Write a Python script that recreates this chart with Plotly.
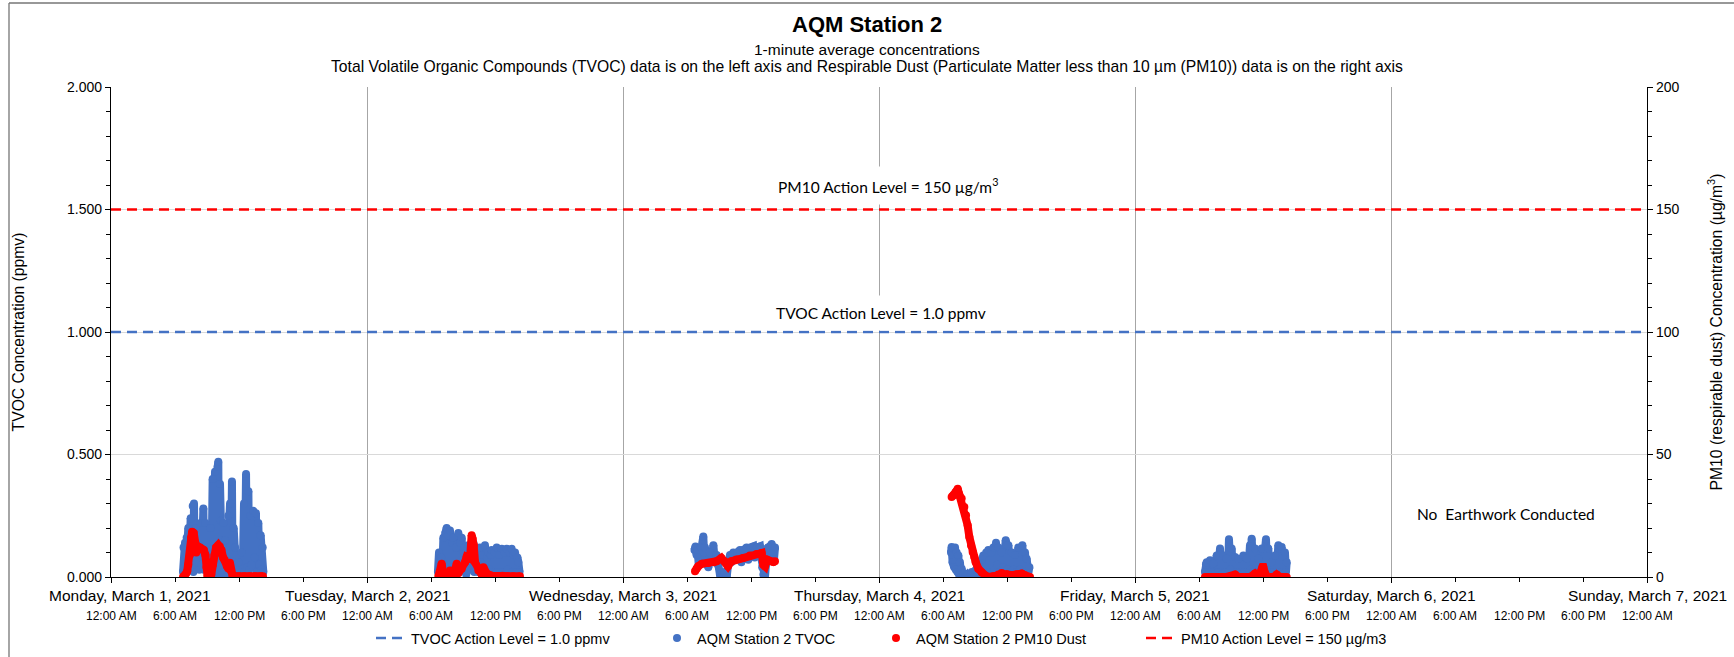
import pandas as pd
import plotly.graph_objects as go

# ---------------- data ----------------
start_date = "2021-03-01"
n_days = 6
day_labels = ["Monday, March 1, 2021", "Tuesday, March 2, 2021", "Wednesday, March 3, 2021",
              "Thursday, March 4, 2021", "Friday, March 5, 2021", "Saturday, March 6, 2021",
              "Sunday, March 7, 2021"]
time_labels = ["12:00 AM", "6:00 AM", "12:00 PM", "6:00 PM"]

tvoc_action_ppmv = 1.0
pm10_action_ugm3 = 150

# (hour of day, TVOC ppmv)
mon_tvoc = [(6.75, 0.02), (6.80, 0.12), (6.85, 0.04), (6.94, 0.14), (7.00, 0.03), (7.09, 0.16),
            (7.15, 0.05), (7.25, 0.20), (7.32, 0.06), (7.47, 0.24), (7.55, 0.03), (7.66, 0.29),
            (7.72, 0.02), (7.78, 0.30), (7.85, 0.05), (7.97, 0.20), (8.05, 0.06), (8.19, 0.13),
            (8.28, 0.03), (8.41, 0.22), (8.50, 0.05), (8.66, 0.28), (8.72, 0.03), (8.84, 0.22),
            (8.92, 0.07), (9.06, 0.12), (9.15, 0.01), (9.34, 0.20), (9.42, 0.03), (9.53, 0.40),
            (9.60, 0.02), (9.75, 0.43), (9.85, 0.01), (10.00, 0.45), (10.06, 0.47), (10.12, 0.00),
            (10.22, 0.38), (10.30, 0.23), (10.34, 0.15), (10.38, 0.07), (10.42, 0.02), (10.53, 0.22),
            (10.60, 0.02), (10.70, 0.15), (10.84, 0.00), (11.00, 0.25), (11.16, 0.30), (11.25, 0.04),
            (11.34, 0.39), (11.40, 0.00), (11.50, 0.20), (11.63, 0.12), (11.75, 0.00), (11.94, 0.06),
            (12.05, 0.00), (12.25, 0.10), (12.35, 0.01), (12.47, 0.30), (12.55, 0.02), (12.66, 0.42),
            (12.75, 0.04), (12.88, 0.35), (12.95, 0.03), (13.09, 0.25), (13.18, 0.05), (13.34, 0.27),
            (13.45, 0.08), (13.59, 0.26), (13.65, 0.02), (13.81, 0.22), (13.90, 0.05), (14.03, 0.17),
            (14.12, 0.03), (14.22, 0.12), (14.28, 0.02)]
tue_tvoc = [(6.65, 0.02), (6.75, 0.10), (6.84, 0.04), (6.95, 0.08), (7.05, 0.02), (7.16, 0.16),
            (7.25, 0.05), (7.35, 0.18), (7.47, 0.20), (7.55, 0.03), (7.65, 0.17), (7.78, 0.19),
            (7.88, 0.02), (8.00, 0.14), (8.09, 0.16), (8.20, 0.04), (8.35, 0.12), (8.56, 0.18),
            (8.65, 0.02), (8.75, 0.14), (8.88, 0.16), (8.98, 0.03), (9.08, 0.10), (9.19, 0.12),
            (9.30, 0.01), (9.40, 0.09), (9.50, 0.13), (9.60, 0.03), (9.75, 0.11), (9.97, 0.14),
            (10.05, 0.02), (10.15, 0.10), (10.28, 0.09), (10.40, 0.02), (10.50, 0.10), (10.59, 0.12),
            (10.70, 0.03), (10.85, 0.09), (11.06, 0.13), (11.15, 0.02), (11.25, 0.08), (11.38, 0.10),
            (11.50, 0.03), (11.60, 0.09), (11.69, 0.11), (11.80, 0.02), (11.95, 0.10), (12.16, 0.12),
            (12.25, 0.02), (12.40, 0.09), (12.63, 0.115), (12.75, 0.02), (12.90, 0.10), (13.09, 0.115),
            (13.20, 0.03), (13.35, 0.10), (13.56, 0.115), (13.65, 0.02), (13.75, 0.09), (13.88, 0.10),
            (14.00, 0.02), (14.10, 0.08), (14.19, 0.06), (14.30, 0.02)]
wed_tvoc = [(6.70, 0.11), (6.80, 0.125), (6.90, 0.09), (7.00, 0.11), (7.10, 0.05), (7.30, 0.12),
            (7.53, 0.165), (7.60, 0.10), (7.69, 0.12), (7.80, 0.06), (8.00, 0.04), (8.15, 0.10),
            (8.30, 0.06), (8.47, 0.13), (8.60, 0.07), (8.78, 0.09), (8.90, 0.05), (9.09, 0.01),
            (9.25, 0.00), (9.41, 0.00), (9.55, 0.02), (9.72, 0.00), (9.85, 0.05), (10.03, 0.09),
            (10.15, 0.06), (10.34, 0.10), (10.50, 0.07), (10.70, 0.10), (10.97, 0.11), (11.10, 0.06),
            (11.30, 0.11), (11.59, 0.12), (11.75, 0.07), (11.95, 0.12), (12.22, 0.125), (12.35, 0.08),
            (12.55, 0.12), (12.84, 0.125), (12.95, 0.08), (13.05, 0.04), (13.16, 0.01), (13.31, 0.00),
            (13.40, 0.05), (13.47, 0.10), (13.60, 0.12), (13.78, 0.125), (13.94, 0.135), (14.05, 0.10),
            (14.15, 0.07), (14.25, 0.12)]
thu_tvoc = [(6.75, 0.10), (6.81, 0.122), (6.90, 0.06), (6.97, 0.116), (7.05, 0.04), (7.13, 0.12),
            (7.20, 0.03), (7.28, 0.10), (7.35, 0.02), (7.44, 0.088), (7.50, 0.01), (7.59, 0.06),
            (7.70, 0.00), (7.75, 0.034), (7.85, 0.00), (7.91, 0.014), (8.10, 0.00), (8.30, 0.01),
            (8.50, 0.00), (8.70, 0.02), (8.90, 0.00), (9.10, 0.03), (9.31, 0.05), (9.45, 0.00),
            (9.63, 0.07), (9.78, 0.088), (9.90, 0.01), (10.05, 0.10), (10.25, 0.11), (10.40, 0.02),
            (10.55, 0.10), (10.72, 0.12), (10.85, 0.03), (10.97, 0.14), (11.10, 0.05), (11.19, 0.12),
            (11.30, 0.02), (11.50, 0.10), (11.65, 0.04), (11.88, 0.15), (11.97, 0.13), (12.05, 0.03),
            (12.13, 0.13), (12.30, 0.02), (12.44, 0.10), (12.60, 0.03), (12.75, 0.09), (12.90, 0.02),
            (13.06, 0.12), (13.20, 0.03), (13.44, 0.13), (13.55, 0.02), (13.69, 0.10), (13.80, 0.01),
            (13.84, 0.075), (14.00, 0.02), (14.10, 0.04)]
fri_tvoc = [(6.56, 0.02), (6.65, 0.05), (6.72, 0.06), (6.85, 0.01), (7.03, 0.068), (7.15, 0.02),
            (7.34, 0.054), (7.45, 0.01), (7.66, 0.088), (7.80, 0.02), (7.97, 0.116), (8.10, 0.01),
            (8.28, 0.088), (8.45, 0.02), (8.59, 0.075), (8.70, 0.01), (8.81, 0.154), (8.95, 0.03),
            (9.06, 0.116), (9.20, 0.01), (9.38, 0.082), (9.55, 0.02), (9.69, 0.075), (9.85, 0.01),
            (10.16, 0.088), (10.30, 0.02), (10.47, 0.075), (10.60, 0.01), (10.78, 0.13), (10.85, 0.03),
            (10.94, 0.156), (11.10, 0.02), (11.25, 0.116), (11.40, 0.01), (11.56, 0.075), (11.70, 0.02),
            (11.88, 0.116), (12.00, 0.03), (12.28, 0.154), (12.40, 0.02), (12.50, 0.116), (12.65, 0.01),
            (12.81, 0.06), (12.95, 0.02), (13.13, 0.088), (13.25, 0.01), (13.44, 0.13), (13.55, 0.02),
            (13.75, 0.122), (13.90, 0.01), (14.06, 0.10), (14.15, 0.02), (14.22, 0.06)]

# (hour of day, PM10 ug/m3)
mon_pm10 = [(6.75, 0.0), (6.90, 0.5), (7.05, 1.5), (7.15, 2.5), (7.25, 5.0), (7.40, 9.0), (7.50, 16.0),
            (7.60, 18.5), (7.75, 18.0), (7.90, 14.0), (8.00, 10.0), (8.15, 12.5), (8.35, 12.0),
            (8.50, 11.5), (8.70, 11.0), (8.85, 9.0), (8.95, 4.0), (9.05, 0.5), (9.25, 0.5), (9.40, 1.0),
            (9.55, 5.0), (9.70, 9.0), (9.85, 12.0), (10.05, 13.0), (10.20, 12.5), (10.35, 11.0),
            (10.50, 8.0), (10.65, 7.0), (10.85, 4.5), (11.00, 3.5), (11.15, 5.8), (11.25, 2.5),
            (11.40, 0.5), (11.60, 0.3), (12.00, 0.3), (12.50, 0.3), (13.00, 0.3), (13.50, 0.3),
            (14.00, 0.3), (14.25, 0.3)]
tue_pm10 = [(6.69, 0.2), (7.00, 5.4), (7.16, 1.0), (7.31, 1.4), (7.60, 0.5), (7.78, 2.7), (8.09, 0.5),
            (8.41, 5.4), (8.56, 1.5), (8.88, 3.4), (9.19, 6.0), (9.34, 8.2), (9.66, 7.5), (9.81, 17.0),
            (9.91, 15.6), (10.00, 13.0), (10.13, 6.0), (10.44, 2.7), (10.75, 1.0), (10.91, 4.0),
            (11.22, 1.4), (11.69, 0.5), (12.20, 0.3), (12.70, 0.5), (13.20, 0.3), (13.70, 0.3),
            (14.34, 0.3)]
wed_pm10 = [(6.75, 2.3), (6.90, 3.5), (7.06, 4.4), (7.40, 5.4), (8.00, 5.7), (8.50, 6.0), (8.78, 6.4),
            (9.22, 7.8), (9.53, 6.4), (9.84, 4.4), (10.16, 6.4), (10.63, 7.1), (11.28, 7.8),
            (11.90, 8.8), (12.53, 9.4), (13.00, 9.8), (13.16, 5.0), (13.31, 4.4), (13.47, 7.1),
            (13.78, 6.4), (14.09, 6.1), (14.25, 6.4)]
thu_pm10 = [(6.81, 32.7), (6.97, 33.3), (7.19, 34.7), (7.38, 36.0), (7.50, 34.0), (7.59, 33.0),
            (7.75, 32.0), (8.00, 28.6), (8.16, 25.2), (8.31, 21.1), (8.47, 16.3), (8.63, 12.9),
            (8.78, 10.2), (8.94, 8.2), (9.06, 6.1), (9.31, 3.4), (9.63, 1.8), (9.94, 0.7),
            (10.25, 0.0), (10.72, 0.3), (11.19, 1.0), (11.50, 1.6), (11.97, 1.1), (12.44, 0.7),
            (12.91, 1.1), (13.38, 1.4), (13.69, 0.7), (14.16, 0.0)]
fri_pm10 = [(6.56, 0.0), (7.00, 0.0), (7.50, 0.0), (8.00, 0.0), (8.50, 0.0), (9.38, 1.0), (9.70, 0.0),
            (10.30, 0.0), (10.80, 0.0), (11.25, 1.4), (11.60, 0.0), (11.95, 4.1), (12.03, 4.1),
            (12.15, 2.0), (12.40, 0.0), (13.00, 0.0), (13.28, 1.0), (13.60, 0.0), (14.22, 0.0)]

tvoc_days = [mon_tvoc, tue_tvoc, wed_tvoc, thu_tvoc, fri_tvoc]
pm10_days = [mon_pm10, tue_pm10, wed_pm10, thu_pm10, fri_pm10]

# ---------------- build ----------------
base = pd.Timestamp(start_date)
end = base + pd.Timedelta(days=n_days)


def build(days):
    xs, ys = [], []
    for d, pairs in enumerate(days):
        for h, v in pairs:
            xs.append(base + pd.Timedelta(hours=24 * d + h))
            ys.append(v)
        xs.append(None)
        ys.append(None)
    return xs, ys


tvoc_x, tvoc_y = build(tvoc_days)
pm_x, pm_y = build(pm10_days)

BLUE = "#4472C4"
RED = "#FF0000"
FONT = "Liberation Sans, Arial, sans-serif"
CAL = "Lato, Carlito, Calibri, sans-serif"
MS = 8

# plot area in pixels: x 111..1647, y 87..577
PL, PR, PT, PB = 111, 1647, 87, 577
PW, PH = PR - PL, PB - PT


def px(pix):
    return (pix - PL) / PW


def py(pix):
    return (PB - pix) / PH


fig = go.Figure()
fig.add_trace(go.Scatter(x=[base, end], y=[tvoc_action_ppmv, tvoc_action_ppmv], mode="lines",
                         name="TVOC Action Level = 1.0 ppmv", legend="legend",
                         line=dict(color=BLUE, width=2.5, dash="10px,6px")))
fig.add_trace(go.Scatter(x=tvoc_x, y=tvoc_y, mode="lines", showlegend=False, hoverinfo="skip",
                         line=dict(color=BLUE, width=MS), connectgaps=False))
fig.add_trace(go.Scatter(x=tvoc_x, y=tvoc_y, mode="markers", name="AQM Station 2 TVOC",
                         legend="legend2", marker=dict(color=BLUE, size=MS)))
fig.add_trace(go.Scatter(x=pm_x, y=pm_y, mode="lines", showlegend=False, hoverinfo="skip",
                         line=dict(color=RED, width=MS), connectgaps=False, yaxis="y2"))
fig.add_trace(go.Scatter(x=pm_x, y=pm_y, mode="markers", name="AQM Station 2 PM10 Dust",
                         legend="legend3", marker=dict(color=RED, size=MS), yaxis="y2"))
fig.add_trace(go.Scatter(x=[base, end], y=[pm10_action_ugm3, pm10_action_ugm3], mode="lines",
                         name="PM10 Action Level = 150 µg/m3", yaxis="y2", legend="legend4",
                         line=dict(color=RED, width=2.5, dash="10px,6px")))

annotations = []
for i, lab in enumerate(day_labels):
    annotations.append(dict(x=base + pd.Timedelta(days=i), y=0, xref="x", yref="paper",
                            text=lab, showarrow=False, yanchor="middle", yshift=-18,
                            xshift=19 if i == 0 else 0,
                            font=dict(family=FONT, size=15.5, color="#000")))
for k in range(n_days * 4 + 1):
    annotations.append(dict(x=base + pd.Timedelta(hours=6 * k), y=0, xref="x", yref="paper",
                            text=time_labels[k % 4], showarrow=False, yanchor="middle", yshift=-39,
                            font=dict(family=FONT, size=12, color="#000")))

annotations += [
    dict(x=base + pd.Timedelta(hours=72.8), y=1.596, xref="x", yref="y",
         text="PM10 Action Level = 150 µg/m<sup>3</sup>", showarrow=False,
         bgcolor="white", borderpad=8, font=dict(family=CAL, size=15.5, color="#000")),
    dict(x=base + pd.Timedelta(hours=72.2), y=1.078, xref="x", yref="y",
         text="TVOC Action Level = 1.0 ppmv", showarrow=False,
         bgcolor="white", borderpad=8, font=dict(family=CAL, size=15.5, color="#000")),
    dict(x=base + pd.Timedelta(hours=130.8), y=0.257, xref="x", yref="y",
         text="No  Earthwork Conducted", showarrow=False,
         font=dict(family=CAL, size=15.5, color="#000")),
    dict(x=px(867), y=py(24), xref="paper", yref="paper", xanchor="center", yanchor="middle",
         text="<b>AQM Station 2</b>", showarrow=False,
         font=dict(family=FONT, size=22, color="#000")),
    dict(x=px(867), y=py(50), xref="paper", yref="paper", xanchor="center", yanchor="middle",
         text="1-minute average concentrations", showarrow=False,
         font=dict(family=FONT, size=15.5, color="#000")),
    dict(x=px(867), y=py(67), xref="paper", yref="paper", xanchor="center", yanchor="middle",
         text="Total Volatile Organic Compounds (TVOC) data is on the left axis and Respirable Dust "
              "(Particulate Matter less than 10 µm (PM10)) data is on the right axis",
         showarrow=False, font=dict(family=FONT, size=15.7, color="#000")),
]


def leg(text_left_px):
    return dict(orientation="h", x=px(text_left_px - 40), xanchor="left", y=py(638),
                yanchor="middle", font=dict(family=FONT, size=14.5, color="#000"),
                bgcolor="rgba(0,0,0,0)", itemwidth=30)


fig.update_layout(
    width=1734, height=657,
    margin=dict(l=PL, r=1734 - PR, t=PT, b=657 - PB, autoexpand=False),
    paper_bgcolor="white", plot_bgcolor="white",
    font=dict(family=FONT, size=14, color="#000"),
    xaxis=dict(type="date", range=[base, end], showticklabels=False, automargin=False,
               tick0=base, dtick=86400000, ticks="outside", ticklen=5, tickcolor="#000",
               showgrid=True, gridcolor="#A6A6A6", gridwidth=1,
               showline=True, linecolor="#000", linewidth=1.3, zeroline=False,
               minor=dict(dtick=6 * 3600000, tick0=base, ticks="outside", ticklen=4,
                          tickcolor="#000", showgrid=False)),
    yaxis=dict(range=[0, 2], dtick=0.5, tickformat=".3f", ticks="outside", ticklen=5,
               automargin=False,
               tickcolor="#000", showgrid=True, gridcolor="#D9D9D9", gridwidth=1.3,
               showline=True, linecolor="#000", linewidth=1.3, zeroline=False,
               tickfont=dict(size=14),
               title=dict(text="TVOC Concentration (ppmv)", standoff=38, font=dict(size=15.7)),
               minor=dict(dtick=0.1, ticks="outside", ticklen=4, tickcolor="#000", showgrid=False)),
    yaxis2=dict(range=[0, 200], dtick=50, overlaying="y", side="right", ticks="outside",
                automargin=False,
                ticklen=5, tickcolor="#000", showgrid=False, showline=True, linecolor="#000",
                linewidth=1.3, zeroline=False, tickfont=dict(size=14),
                title=dict(text="PM10 (respirable dust) Concentration (µg/m<sup>3</sup>)",
                           standoff=32, font=dict(size=15.7)),
                minor=dict(dtick=10, ticks="outside", ticklen=4, tickcolor="#000")),
    legend=leg(411),
    legend2=leg(697),
    legend3=leg(916),
    legend4=leg(1181),
    annotations=annotations,
    shapes=[
        dict(type="line", xref="paper", yref="paper", x0=px(9), x1=px(9),
             y0=py(700), y1=py(3), line=dict(color="#767676", width=1.3)),
        dict(type="line", xref="paper", yref="paper", x0=px(9), x1=px(1760),
             y0=py(3), y1=py(3), line=dict(color="#767676", width=1.3)),
    ],
)

fig.write_html("out.html", config={"displayModeBar": False},
               post_script="document.body.style.margin='0';document.body.style.padding='0';")
